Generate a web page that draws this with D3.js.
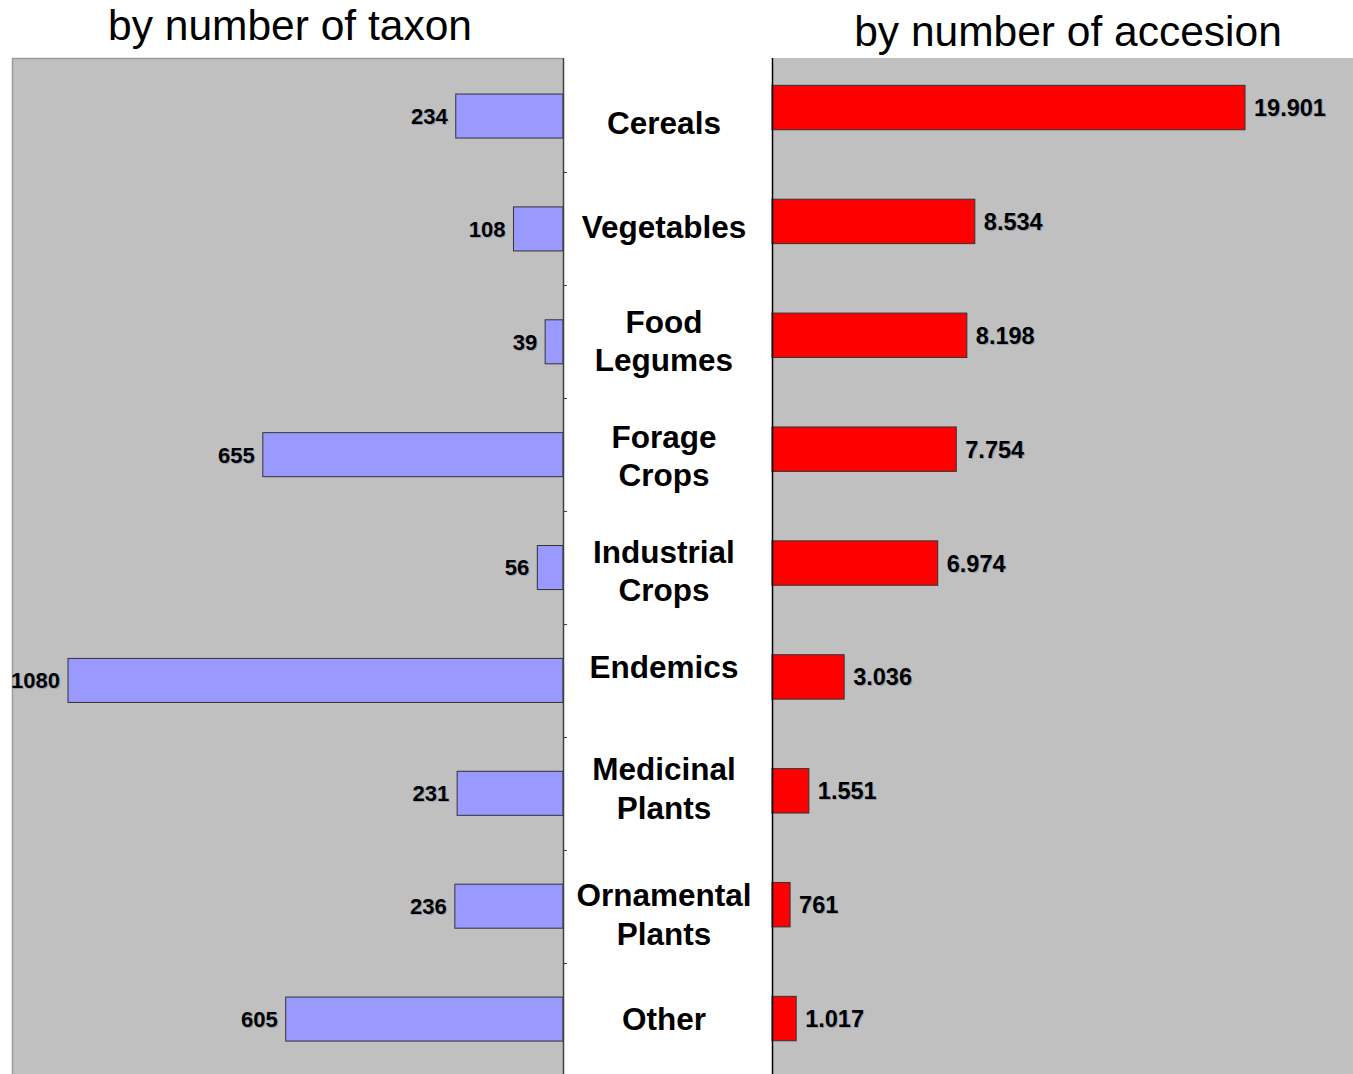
<!DOCTYPE html>
<html><head><meta charset="utf-8">
<script src="https://cdn.jsdelivr.net/npm/d3@7"></script>
<style>body{margin:0;background:#fff;}svg{display:block;font-family:"Liberation Sans",Arial,sans-serif;}</style>
</head><body>
<svg id="chart" width="1353" height="1074"></svg>
<script>
const categories = ["Cereals","Vegetables","Food\nLegumes","Forage\nCrops","Industrial\nCrops","Endemics","Medicinal\nPlants","Ornamental\nPlants","Other"];
const taxonValues = [234,108,39,655,56,1080,231,236,605];
const accessionValues = [19901,8534,8198,7754,6974,3036,1551,761,1017];
const titles = ["by number of taxon","by number of accesion"];

const svg = d3.select("#chart");
const W = 1353, H = 1074;
const L = {x0:12, x1:563, y0:58, y1:1074};
const R = {x0:772, x1:1353, y0:58, y1:1074};

const loc = d3.formatLocale({decimal:",", thousands:".", grouping:[3], currency:["",""]});
const fmt = loc.format(",d");

// panels
svg.append("rect").attr("x",L.x0).attr("y",L.y0).attr("width",L.x1-L.x0).attr("height",L.y1-L.y0).attr("fill","#c0c0c0");
svg.append("path").attr("d",`M${L.x0+0.5},${L.y1}V${L.y0+0.5}H${L.x1}`).attr("fill","none").attr("stroke","#9a9a9a").attr("stroke-width",1.5);
svg.append("rect").attr("x",R.x0).attr("y",R.y0).attr("width",R.x1-R.x0).attr("height",R.y1-R.y0).attr("fill","#c0c0c0");

// scales
const xL = d3.scaleLinear().domain([0,1080]).range([L.x1, 68]);
const xR = d3.scaleLinear().domain([0,19901]).range([R.x0, 1245]);
const yL = d3.scaleBand().domain(categories).range([59.6,1075.5]).paddingInner(0.61).paddingOuter(0.305);
const yR = d3.scaleBand().domain(categories).range([50.6,1075.5]).paddingInner(0.61).paddingOuter(0.305);
const yC = d3.scaleBand().domain(categories).range([59.6,1075.5]);

// left bars
svg.append("g").selectAll("rect").data(categories).join("rect")
  .attr("x",(d,i)=>xL(taxonValues[i])).attr("y",d=>yL(d))
  .attr("width",(d,i)=>xL(0)-xL(taxonValues[i])).attr("height",yL.bandwidth())
  .attr("fill","#9999ff").attr("stroke","#333").attr("stroke-width",1);
svg.append("g").selectAll("text").data(categories).join("text")
  .attr("x",(d,i)=>xL(taxonValues[i])-8).attr("y",d=>yL(d)+yL.bandwidth()/2)
  .attr("dy","0.36em").attr("text-anchor","end").attr("font-weight","bold").attr("font-size",22)
  .attr("fill","#000").style("text-shadow","1px 1px 0 rgba(60,90,140,0.35)")
  .text((d,i)=>taxonValues[i]);

// right bars
svg.append("g").selectAll("rect").data(categories).join("rect")
  .attr("x",R.x0).attr("y",d=>yR(d))
  .attr("width",(d,i)=>xR(accessionValues[i])-xR(0)).attr("height",yR.bandwidth())
  .attr("fill","#ff0000").attr("stroke","#333").attr("stroke-width",1);
svg.append("g").selectAll("text").data(categories).join("text")
  .attr("x",(d,i)=>xR(accessionValues[i])+9).attr("y",d=>yR(d)+yR.bandwidth()/2)
  .attr("dy","0.36em").attr("text-anchor","start").attr("font-weight","bold").attr("font-size",23.5)
  .attr("fill","#000").style("text-shadow","1px 1px 0 rgba(60,90,140,0.35)")
  .text((d,i)=>fmt(accessionValues[i]));

// axis lines
svg.append("line").attr("x1",L.x1+0.5).attr("x2",L.x1+0.5).attr("y1",L.y0).attr("y2",H).attr("stroke","#404040").attr("stroke-width",1.5);
svg.append("line").attr("x1",R.x0+0.5).attr("x2",R.x0+0.5).attr("y1",R.y0).attr("y2",H).attr("stroke","#000").attr("stroke-width",1.5);
// ticks at category boundaries
svg.append("g").selectAll("line").data(categories.slice(1)).join("line")
  .attr("x1",L.x1).attr("x2",L.x1+4).attr("y1",d=>Math.round(yC(d))+0.5).attr("y2",d=>Math.round(yC(d))+0.5)
  .attr("stroke","#404040").attr("stroke-width",1);

// category labels (small per-label vertical nudges to match original layout)
const nudge = {"Cereals":7,"Vegetables":-2,"Food\nLegumes":-1,"Forage\nCrops":1,"Industrial\nCrops":3,"Endemics":-13,"Medicinal\nPlants":-5,"Ornamental\nPlants":8,"Other":0};
const cl = svg.append("g").selectAll("text").data(categories).join("text")
  .attr("x",664).attr("y",d=>yC(d)+yC.bandwidth()/2 + nudge[d])
  .attr("text-anchor","middle").attr("font-weight","bold").attr("font-size",31.5).attr("fill","#000");
cl.each(function(d){
  const lines = d.split("\n");
  const t = d3.select(this);
  const n = lines.length;
  lines.forEach((ln,k)=>{
    t.append("tspan").attr("x",664).attr("dy", k===0 ? ((0.35 - (n-1)*0.6) + "em") : "1.22em").text(ln);
  });
});

// titles
svg.append("text").attr("x",290).attr("y",40).attr("text-anchor","middle").attr("font-size",42.5).attr("fill","#000").text(titles[0]);
svg.append("text").attr("x",1068).attr("y",46).attr("text-anchor","middle").attr("font-size",42.5).attr("fill","#000").text(titles[1]);
</script>
</body></html>
